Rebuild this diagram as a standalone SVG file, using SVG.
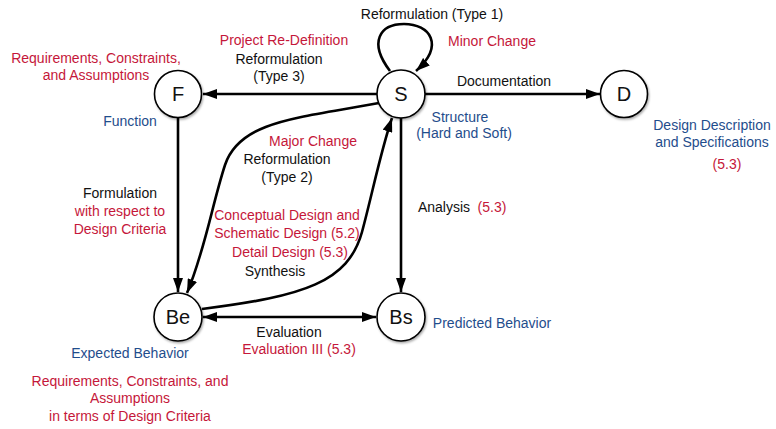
<svg xmlns="http://www.w3.org/2000/svg" width="776" height="429" viewBox="0 0 776 429">
<defs>
<style>
text{font-family:"Liberation Sans",Arial,sans-serif;font-size:14px;fill:#111;text-anchor:middle}
.r{fill:#c5173a}
.b{fill:#1f4d8c}
.n{font-size:20px}
.nc{fill:#fff;stroke:#000;stroke-width:1.6;filter:url(#sh)}
.e{fill:none;stroke:#000;stroke-width:2.6}
</style>
<filter id="sh" x="-30%" y="-30%" width="160%" height="160%">
<feDropShadow dx="1" dy="1.5" stdDeviation="1.3" flood-color="#000" flood-opacity="0.35"/>
</filter>
<marker id="ah" viewBox="0 0 14 10" refX="14" refY="5" markerWidth="14" markerHeight="10" markerUnits="userSpaceOnUse" orient="auto-start-reverse">
<path d="M0,0 L14,5 L0,10 z" fill="#000"/>
</marker>
</defs>
<rect width="776" height="429" fill="#fff"/>
<g id="connectors">
<path class="e" d="M377,94 L203,94" marker-end="url(#ah)"/>
<path class="e" d="M425,94 L600,94" marker-end="url(#ah)"/>
<path class="e" d="M178,118 L178,292" marker-end="url(#ah)"/>
<path class="e" d="M401,118 L401,292" marker-end="url(#ah)"/>
<path class="e" d="M203,317 L376,317" marker-start="url(#ah)" marker-end="url(#ah)"/>
<path class="e" d="M379,103 C300,118 240,120 225,165 C212,205 205,250 187,293" marker-end="url(#ah)"/>
<path class="e" d="M202,309 C305,296 348,282 362,232 C372,195 381,150 392,118" marker-end="url(#ah)"/>
<path class="e" d="M390,71 C368,42 380,24 404,24 C430,24 445,45 416,71" marker-end="url(#ah)"/>
</g>
<g id="F"><circle class="nc" cx="178" cy="94" r="23.5"/><text class="n" x="178" y="101">F</text></g>
<g id="S"><circle class="nc" cx="401" cy="94" r="24"/><text class="n" x="401" y="101">S</text></g>
<g id="D"><circle class="nc" cx="624" cy="94" r="23.5"/><text class="n" x="624" y="101">D</text></g>
<g id="Be"><circle class="nc" cx="178" cy="317" r="24"/><text class="n" x="178" y="324">Be</text></g>
<g id="Bs"><circle class="nc" cx="401" cy="317" r="24"/><text class="n" x="401" y="324">Bs</text></g>
<g id="labels">
<text x="432" y="19">Reformulation (Type 1)</text>
<text class="r" x="492" y="46">Minor Change</text>
<text class="r" x="284" y="45">Project Re-Definition</text>
<text x="279" y="64">Reformulation</text>
<text x="279" y="81">(Type 3)</text>
<text class="r" x="96" y="63">Requirements, Constraints,</text>
<text class="r" x="96" y="80">and Assumptions</text>
<text class="b" x="130" y="126">Function</text>
<text x="504" y="86">Documentation</text>
<text class="b" x="460" y="122">Structure</text>
<text class="b" x="464" y="138">(Hard and Soft)</text>
<text class="b" x="712" y="130">Design Description</text>
<text class="b" x="712" y="147">and Specifications</text>
<text class="r" x="727" y="169">(5.3)</text>
<text class="r" x="313" y="146">Major Change</text>
<text x="287" y="164">Reformulation</text>
<text x="287" y="182">(Type 2)</text>
<text x="120" y="198">Formulation</text>
<text class="r" x="120" y="216">with respect to</text>
<text class="r" x="120" y="234">Design Criteria</text>
<text class="r" x="287" y="220">Conceptual Design and</text>
<text class="r" x="287" y="238">Schematic Design (5.2)</text>
<text class="r" x="290" y="257">Detail Design (5.3)</text>
<text x="275" y="276">Synthesis</text>
<text x="444" y="212">Analysis</text>
<text class="r" x="492" y="212">(5.3)</text>
<text class="b" x="492" y="328">Predicted Behavior</text>
<text x="289" y="337">Evaluation</text>
<text class="r" x="299" y="354">Evaluation III (5.3)</text>
<text class="b" x="130" y="358">Expected Behavior</text>
<text class="r" x="130" y="386">Requirements, Constraints, and</text>
<text class="r" x="130" y="403">Assumptions</text>
<text class="r" x="130" y="421">in terms of Design Criteria</text>
</g>
</svg>
